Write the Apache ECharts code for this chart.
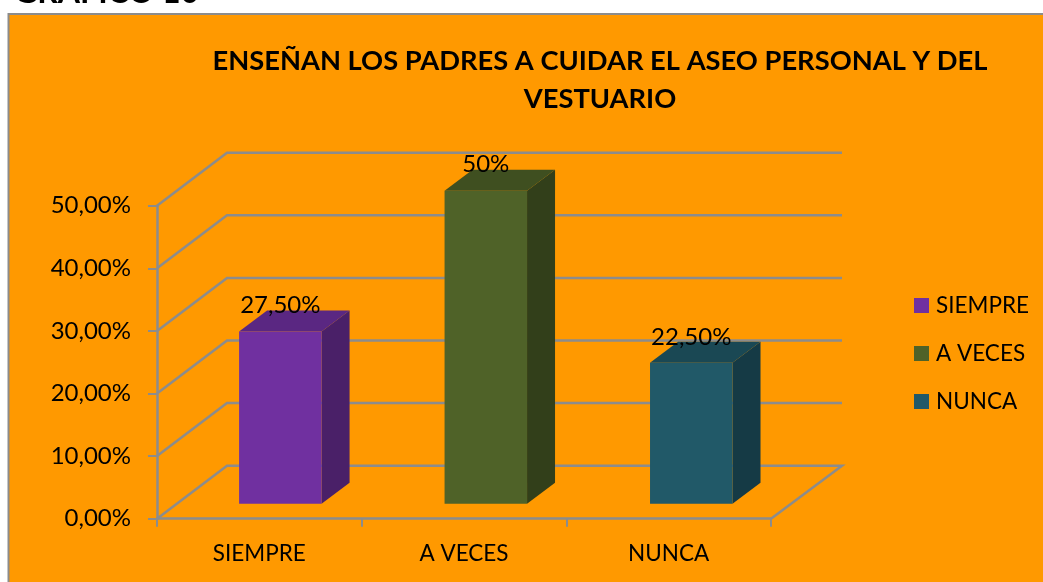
<!DOCTYPE html>
<html>
<head>
<meta charset="utf-8">
<style>html,body{margin:0;padding:0;background:#fff;overflow:hidden}#c{width:1043px;height:582px}</style>
<script src="https://cdn.jsdelivr.net/npm/echarts@6/dist/echarts.min.js"></script>
</head>
<body>
<div id="c"></div>
<script>
const categories = ['SIEMPRE', 'A VECES', 'NUNCA'];
const values = [27.5, 50, 22.5];
const valueLabels = ['27,50%', '50%', '22,50%'];
const yTicks = [0, 10, 20, 30, 40, 50];
const frontColors = ['#7030A0', '#4F6228', '#215968'];
const topColors = ['#5A2782', '#3F4F20', '#1A4854'];
const sideColors = ['#4A2068', '#323F1A', '#153A45'];

const FONT = 'Lato';
const GRAY = '#8C8C8C';
const DEPTH = [70, -53];
const BAR_SHIFT = [21, -15];
const BAR_DEPTH = [28, -21];

const chart = echarts.init(document.getElementById('c'));

function renderWall(params, api) {
  const cs = params.coordSys;
  const v = api.value(0);
  const y = api.coord([0, v])[1];
  const xL = cs.x, xR = cs.x + cs.width;
  const pts = [[xL, y], [xL + DEPTH[0], y + DEPTH[1]], [xR + DEPTH[0] + 1, y + DEPTH[1]]];
  if (v === 0) pts.push([xR, y]);
  return {
    type: 'polyline', shape: { points: pts }, silent: true,
    style: { stroke: GRAY, lineWidth: 2.5, fill: null }
  };
}

function barSeries(i) {
  return {
    name: categories[i],
    type: 'custom',
    coordinateSystem: 'cartesian2d',
    itemStyle: { color: frontColors[i] },
    z: 5,
    data: [[i, values[i]]],
    encode: { x: 0, y: 1 },
    renderItem: function (params, api) {
      const base = api.coord([api.value(0), 0]);
      const top = api.coord([api.value(0), api.value(1)]);
      const w = api.size([1, 0])[0] * 0.403;
      const x0 = base[0] + BAR_SHIFT[0] + i * 0.8 - w / 2, x1 = x0 + w;
      const yb = base[1] + BAR_SHIFT[1], yt = top[1] + BAR_SHIFT[1];
      const dx = BAR_DEPTH[0], dy = BAR_DEPTH[1];
      return {
        type: 'group',
        children: [
          { type: 'polygon', shape: { points: [[x1, yt], [x1 + dx, yt + dy], [x1 + dx, yb + dy], [x1, yb]] }, style: { fill: sideColors[i] } },
          { type: 'polygon', shape: { points: [[x0, yt], [x0 + dx, yt + dy], [x1 + dx, yt + dy], [x1, yt]] }, style: { fill: topColors[i] } },
          { type: 'rect', shape: { x: x0, y: yt, width: w, height: yb - yt }, style: { fill: frontColors[i] } },
          { type: 'text', z2: 10, style: { x: (x0 + x1) / 2, y: yt - 26, text: valueLabels[i], fill: '#000', font: '24px ' + FONT, textAlign: 'center', textVerticalAlign: 'middle' } }
        ]
      };
    }
  };
}

chart.setOption({
  animation: false,
  backgroundColor: '#fff',
  textStyle: { fontFamily: FONT },
  title: {
    text: 'ENSEÑAN LOS PADRES A CUIDAR EL ASEO PERSONAL Y DEL\nVESTUARIO',
    left: 595, top: 37, textAlign: 'center',
    textStyle: { fontFamily: FONT, fontWeight: 'bold', fontSize: 27.3, lineHeight: 38, color: '#000' }
  },
  legend: {
    orient: 'vertical', left: 909, top: 289, itemWidth: 15, itemHeight: 15, itemGap: 25,
    data: categories.map(name => ({ name, icon: 'rect' })),
    selectedMode: false,
    textStyle: { fontFamily: FONT, fontSize: 22.5, lineHeight: 23, color: '#000', padding: [0, 0, 0, 2] }
  },
  grid: { left: 157, top: 205.7, width: 614, height: 313 },
  xAxis: {
    type: 'category', data: categories, boundaryGap: true,
    axisLine: { lineStyle: { color: GRAY, width: 2.5 } },
    axisTick: { show: true, length: 8, alignWithLabel: false, lineStyle: { color: GRAY, width: 2 } },
    axisLabel: { color: '#000', fontSize: 22.5, fontFamily: FONT, margin: 24 },
    splitLine: { show: false }
  },
  yAxis: {
    type: 'value', min: 0, max: 50, interval: 10,
    axisLine: { show: true, lineStyle: { color: GRAY, width: 2.5 } },
    axisTick: { show: true, length: 9, lineStyle: { color: GRAY, width: 2 } },
    axisLabel: { color: '#000', fontSize: 24, fontFamily: FONT, margin: 26, padding: [8, 0, 0, 0], formatter: v => v.toFixed(2).replace('.', ',') + '%' },
    splitLine: { show: false }
  },
  graphic: [
    { type: 'rect', z: -10, silent: true, shape: { x: 8.5, y: 14, width: 1100, height: 700 }, style: { fill: '#FF9900', stroke: GRAY, lineWidth: 2 } },
    { type: 'text', z: -10, silent: true, style: { x: 14, y: -23, text: 'GRÁFICO 10', fill: '#000', font: 'bold 32px ' + FONT } }
  ],
  series: [
    { name: 'wall', type: 'custom', coordinateSystem: 'cartesian2d', z: 1, silent: true, data: yTicks.map(v => [v]), encode: { y: 0 }, renderItem: renderWall },
    barSeries(0), barSeries(1), barSeries(2)
  ]
});
</script>
</body>
</html>
